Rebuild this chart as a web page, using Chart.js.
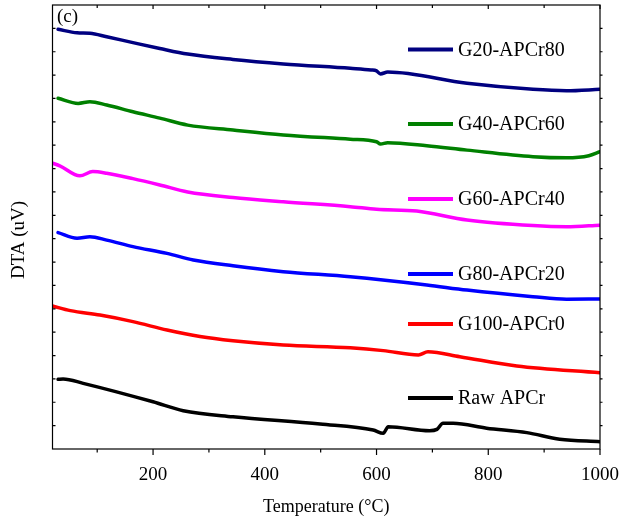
<!DOCTYPE html>
<html>
<head>
<meta charset="utf-8">
<script src="https://cdn.jsdelivr.net/npm/chart.js@4"></script>
<style>
html,body{margin:0;padding:0;background:#fff;}
#wrap{width:621px;height:520px;position:relative;}
</style>
</head>
<body>
<div id="wrap"><canvas id="c" width="621" height="520"></canvas></div>
<script>
// ---- data (temperature °C, DTA arbitrary offset units) ----
const seriesNames = ["G20-APCr80","G40-APCr60","G60-APCr40","G80-APCr20","G100-APCr0","Raw APCr"];
const seriesColors = ["#000080","#008000","#ff00ff","#0000ff","#ff0000","#000000"];

const tG20 = [30,64,87,117,164,212,262,343,433,553,590,600,607,620,762,880,940,1000];
const vG20 = [17.96,17.81,17.79,17.64,17.39,17.14,16.90,16.67,16.48,16.29,16.22,16.18,16.05,16.13,15.65,15.39,15.33,15.39];

const tG40 = [30,66,87,117,164,212,262,343,433,553,600,607,620,690,762,880,940,980,1000];
const vG40 = [15.01,14.79,14.86,14.72,14.43,14.16,13.86,13.65,13.44,13.26,13.15,13.05,13.11,12.98,12.79,12.51,12.46,12.55,12.72];

const tG60 = [20,33,69,92,117,164,212,262,343,433,553,600,672,762,880,940,1000];
const vG60 = [12.23,12.12,11.69,11.87,11.80,11.57,11.30,11.00,10.76,10.58,10.37,10.26,10.18,9.80,9.56,9.51,9.58];

const tG80 = [30,64,87,117,164,225,272,343,433,553,690,762,880,940,1000];
const vG80 = [9.26,9.02,9.08,8.94,8.66,8.37,8.09,7.84,7.59,7.37,7.02,6.80,6.52,6.41,6.42];

const tG100 = [20,52,105,164,225,284,343,433,553,612,675,692,749,851,1000];
const vG100 = [6.12,5.92,5.73,5.45,5.09,4.81,4.63,4.45,4.33,4.21,4.02,4.16,3.95,3.55,3.26];

const tRaw = [30,39,75,200,254,343,499,594,612,621,695,708,719,737,797,869,928,1000];
const vRaw = [2.98,3.00,2.81,2.02,1.64,1.38,1.07,0.81,0.67,0.95,0.78,0.84,1.10,1.10,0.89,0.70,0.42,0.31];

const xTickLabels = [200,400,600,800,1000];
const xMin = 20, xMax = 1000, yMin = 0, yMax = 19;

const allT = [tG20,tG40,tG60,tG80,tG100,tRaw];
const allV = [vG20,vG40,vG60,vG80,vG100,vRaw];

const datasets = seriesNames.map((name,i)=>({
  label: name,
  data: allT[i].map((t,j)=>({x:t,y:allV[i][j]})),
  borderColor: seriesColors[i],
  backgroundColor: seriesColors[i],
  borderWidth: 3.5,
  pointRadius: 0,
  cubicInterpolationMode: 'monotone',
  borderCapStyle: 'round',
  fill: false
}));

const legendY = [49.5,124,199,274,324,398];

const framePlugin = {
  id: 'frame',
  afterDraw(chart){
    const {ctx, chartArea:a, scales:{x,y}} = chart;
    ctx.save();
    ctx.strokeStyle = '#000';
    ctx.lineWidth = 1.2;
    ctx.strokeRect(a.left, a.top, a.right-a.left, a.bottom-a.top);
    ctx.beginPath();
    for(let v=100; v<=xMax; v+=100){
      const px = x.getPixelForValue(v);
      const major = v%200===0;
      const L = major?6:3.5;
      ctx.moveTo(px, a.bottom); ctx.lineTo(px, a.bottom+L);
      ctx.moveTo(px, a.top); ctx.lineTo(px, a.top+(major?4:3));
    }
    for(let v=yMin+1; v<yMax; v++){
      const py = y.getPixelForValue(v);
      ctx.moveTo(a.left, py); ctx.lineTo(a.left+3, py);
      ctx.moveTo(a.right, py); ctx.lineTo(a.right+2.5, py);
    }
    ctx.stroke();
    ctx.fillStyle = '#000';
    // y axis title
    ctx.save();
    ctx.translate(19, 240);
    ctx.rotate(-Math.PI/2);
    ctx.font = '19px "Liberation Serif"';
    ctx.textAlign = 'center';
    ctx.textBaseline = 'middle';
    ctx.fillText('DTA (uV)', 0, 0);
    ctx.restore();
    // panel label
    ctx.font = '19px "Liberation Serif"';
    ctx.textBaseline = 'middle';
    ctx.textAlign = 'left';
    ctx.fillText('(c)', 57, 17);
    // legend
    ctx.font = '20px "Liberation Serif"';
    chart.data.datasets.forEach((ds,i)=>{
      const yy = legendY[i];
      ctx.strokeStyle = ds.borderColor;
      ctx.lineWidth = 4;
      ctx.beginPath(); ctx.moveTo(408,yy); ctx.lineTo(453,yy); ctx.stroke();
      ctx.fillStyle = '#000';
      ctx.fillText(ds.label, 458, yy+1);
    });
    ctx.restore();
  }
};

new Chart(document.getElementById('c'), {
  type: 'line',
  data: { datasets },
  options: {
    responsive: false,
    animation: false,
    layout: { padding: { top: 5, right: 21, left: 0, bottom: 0 } },
    plugins: { legend: { display: false }, tooltip: { enabled: false } },
    scales: {
      x: {
        type: 'linear', min: xMin, max: xMax,
        grid: { display: false }, border: { display: false },
        afterBuildTicks(axis){ axis.ticks = xTickLabels.map(v=>({value:v})); },
        afterFit(axis){ axis.height = 71; axis.paddingLeft = 0; axis.paddingRight = 0; },
        ticks: { color:'#000', padding: 7, maxRotation: 0, autoSkip: false,
          callback: v => String(v),
          font: { family: '"Liberation Serif"', size: 19 } },
        title: { display: true, text: 'Temperature (°C)', color:'#000',
          font: { family: '"Liberation Serif"', size: 18 }, padding: { top: 0, bottom: 2 } }
      },
      y: {
        type: 'linear', min: yMin, max: yMax,
        grid: { display: false }, border: { display: false },
        ticks: { display: false },
        afterFit(axis){ axis.width = 52.5; axis.paddingTop = 0; axis.paddingBottom = 0; },
        title: { display: false }
      }
    }
  },
  plugins: [framePlugin]
});
</script>
</body>
</html>
